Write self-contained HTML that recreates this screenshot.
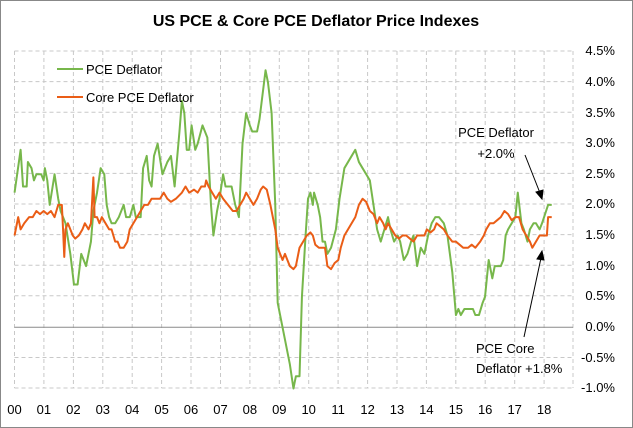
<!DOCTYPE html>
<html><head><meta charset="utf-8"><style>
html,body{margin:0;padding:0;background:#fff}
svg{display:block}
text{font-family:"Liberation Sans",Arial,sans-serif;fill:#000}
</style></head><body>
<svg width="633" height="428" viewBox="0 0 633 428" xmlns="http://www.w3.org/2000/svg">
<rect x="0.5" y="0.5" width="632" height="427" fill="#fff" stroke="#888"/>
<text x="316" y="26" font-size="16" font-weight="bold" text-anchor="middle">US PCE &amp; Core PCE Deflator Price Indexes</text>
<g stroke="#c8c8c8" stroke-width="1" stroke-dasharray="4,3" fill="none">
<line x1="14.5" y1="51" x2="573" y2="51"/><line x1="14.5" y1="81.6" x2="573" y2="81.6"/>
<line x1="14.5" y1="112.2" x2="573" y2="112.2"/><line x1="14.5" y1="142.8" x2="573" y2="142.8"/>
<line x1="14.5" y1="173.4" x2="573" y2="173.4"/><line x1="14.5" y1="204" x2="573" y2="204"/>
<line x1="14.5" y1="234.6" x2="573" y2="234.6"/><line x1="14.5" y1="265.2" x2="573" y2="265.2"/>
<line x1="14.5" y1="295.8" x2="573" y2="295.8"/>
<line x1="14.5" y1="357.5" x2="573" y2="357.5"/><line x1="14.5" y1="388" x2="573" y2="388"/>
<line x1="14.5" y1="51" x2="14.5" y2="388"/><line x1="43.9" y1="51" x2="43.9" y2="388"/>
<line x1="73.4" y1="51" x2="73.4" y2="388"/><line x1="102.8" y1="51" x2="102.8" y2="388"/>
<line x1="132.2" y1="51" x2="132.2" y2="388"/><line x1="161.6" y1="51" x2="161.6" y2="388"/>
<line x1="191" y1="51" x2="191" y2="388"/><line x1="220.5" y1="51" x2="220.5" y2="388"/>
<line x1="249.9" y1="51" x2="249.9" y2="388"/><line x1="279.3" y1="51" x2="279.3" y2="388"/>
<line x1="308.7" y1="51" x2="308.7" y2="388"/><line x1="338.1" y1="51" x2="338.1" y2="388"/>
<line x1="367.6" y1="51" x2="367.6" y2="388"/><line x1="397" y1="51" x2="397" y2="388"/>
<line x1="426.4" y1="51" x2="426.4" y2="388"/><line x1="455.8" y1="51" x2="455.8" y2="388"/>
<line x1="485.2" y1="51" x2="485.2" y2="388"/><line x1="514.7" y1="51" x2="514.7" y2="388"/>
<line x1="544.1" y1="51" x2="544.1" y2="388"/><line x1="573" y1="51" x2="573" y2="388"/>
</g>
<line x1="14.5" y1="327.3" x2="573" y2="327.3" stroke="#8a8a8a" stroke-width="1"/>
<g font-size="13" text-anchor="end">
<text x="615" y="55">4.5%</text><text x="615" y="86">4.0%</text><text x="615" y="117">3.5%</text>
<text x="615" y="147">3.0%</text><text x="615" y="178">2.5%</text><text x="615" y="208">2.0%</text>
<text x="615" y="239">1.5%</text><text x="615" y="270">1.0%</text><text x="615" y="300">0.5%</text>
<text x="615" y="331">0.0%</text><text x="615" y="362">-0.5%</text><text x="615" y="392">-1.0%</text>
</g>
<g font-size="13" text-anchor="middle">
<text x="14.5" y="414">00</text><text x="43.9" y="414">01</text><text x="73.4" y="414">02</text>
<text x="102.8" y="414">03</text><text x="132.2" y="414">04</text><text x="161.6" y="414">05</text>
<text x="191" y="414">06</text><text x="220.5" y="414">07</text><text x="249.9" y="414">08</text>
<text x="279.3" y="414">09</text><text x="308.7" y="414">10</text><text x="338.1" y="414">11</text>
<text x="367.6" y="414">12</text><text x="397" y="414">13</text><text x="426.4" y="414">14</text>
<text x="455.8" y="414">15</text><text x="485.2" y="414">16</text><text x="514.7" y="414">17</text>
<text x="544.1" y="414">18</text>
</g>
<g transform="translate(0,327.3) scale(1.2126,-61.2)" fill="none" stroke-linejoin="round">
<polyline vector-effect="non-scaling-stroke" stroke="#77b74b" stroke-width="2" points="12,2.2 17,2.9 19,2.3 22,2.3 23,2.7 26,2.6 28,2.4 30,2.5 34,2.5 36,2.4 37,2.6 39,2.4 41,2.0 45,2.5 48,2.1 50,1.9 54,1.7 58,1.2 61,0.7 64,0.7 67,1.2 71,1.0 75,1.4 77,1.9 80,2.2 83,2.6 86,2.5 88,2.0 90,1.8 92,1.7 95,1.7 98,1.8 102,2.0 104,1.8 107,1.8 110,2.0 112,1.8 116,1.8 118,2.6 121,2.8 123,2.4 125,2.3 127,2.8 130,3.0 134,2.5 136,2.6 138,2.7 141,2.8 144,2.3 148,3.2 150,3.7 152,3.5 154,2.9 156,2.9 158,3.3 161,2.9 163,3.0 167,3.3 171,3.1 174,2.0 176,1.5 179,1.9 181,2.1 184,2.5 186,2.3 188,2.3 191,2.3 194,2.0 197,1.8 200,3.0 203,3.5 206,3.3 208,3.2 212,3.2 214,3.4 219,4.2 221,4.0 224,3.5 227,2.0 229,0.4 231,0.2 235,-0.2 239,-0.6 242,-1.0 244,-0.8 247,-0.8 249,0.5 252,1.5 254,2.1 256,2.2 258,2.0 259,2.2 262,2.0 264,1.8 266,1.4 268,1.4 270,1.2 273,1.3 277,1.6 280,2.1 284,2.6 287,2.7 290,2.8 293,2.9 296,2.7 299,2.6 302,2.5 305,2.4 308,2.0 311,1.6 314,1.4 317,1.6 320,1.8 322,1.6 325,1.4 328,1.5 330,1.4 333,1.1 336,1.2 339,1.4 341,1.5 344,1.0 347,1.3 350,1.2 353,1.5 356,1.7 359,1.8 362,1.8 366,1.7 369,1.5 373,0.9 376,0.2 378,0.3 380,0.2 383,0.3 390,0.3 392,0.2 395,0.2 398,0.4 400,0.5 403,1.1 406,0.8 408,1.0 413,1.0 415,1.1 417,1.5 419,1.6 422,1.7 425,1.8 427,2.2 430,1.7 432,1.6 435,1.4 437,1.6 440,1.7 442,1.7 445,1.6 447,1.7 452,2.0 455,2.0"/>
<polyline vector-effect="non-scaling-stroke" stroke="#ea5d16" stroke-width="2" points="12,1.5 15,1.8 17,1.6 20,1.7 24,1.8 27,1.8 30,1.9 33,1.85 36,1.9 39,1.85 42,1.9 45,1.8 48,2.0 51,2.0 52,1.6 53,1.15 54,1.6 56,1.7 58,1.6 60,1.5 62,1.45 65,1.5 68,1.6 70,1.7 73,1.6 75,1.7 77,2.45 78,1.8 80,1.8 82,1.7 84,1.8 87,1.7 90,1.6 92,1.6 95,1.4 97,1.4 99,1.3 102,1.3 105,1.4 107,1.6 110,1.7 113,1.8 116,1.9 119,2.0 122,2.0 125,2.1 128,2.1 132,2.1 135,2.2 138,2.1 141,2.05 145,2.1 150,2.2 153,2.3 156,2.2 160,2.25 163,2.2 166,2.3 169,2.3 170,2.4 172,2.3 175,2.2 178,2.1 181,2.2 184,2.1 188,2.0 192,1.9 195,1.9 198,2.0 201,2.1 203,2.2 206,2.1 209,2.0 212,2.1 215,2.25 217,2.3 220,2.25 223,2.0 225,1.8 227,1.6 229,1.3 231,1.2 233,1.1 235,1.2 237,1.1 239,1.0 242,0.95 244,1.0 247,1.3 250,1.4 253,1.5 256,1.55 258,1.5 260,1.35 263,1.3 266,1.3 268,1.3 270,1.0 273,0.95 276,1.05 279,1.1 281,1.3 284,1.5 287,1.6 290,1.7 293,1.8 296,2.0 299,2.1 302,2.05 305,1.9 308,1.85 311,1.7 313,1.8 316,1.7 318,1.6 320,1.7 323,1.6 326,1.5 329,1.45 332,1.5 335,1.5 338,1.45 341,1.4 344,1.5 347,1.5 350,1.5 352,1.6 355,1.55 358,1.6 360,1.7 363,1.65 366,1.6 369,1.5 373,1.4 376,1.4 379,1.35 382,1.3 386,1.3 389,1.35 392,1.3 396,1.4 399,1.5 401,1.6 404,1.7 407,1.7 410,1.75 413,1.8 416,1.9 419,1.85 422,1.75 425,1.8 428,1.8 431,1.6 434,1.5 437,1.4 439,1.3 442,1.4 445,1.5 448,1.5 451,1.5 452,1.8 455,1.8"/>
</g>
<line x1="57" y1="69" x2="83" y2="69" stroke="#77b74b" stroke-width="2"/>
<text x="86" y="74" font-size="13">PCE Deflator</text>
<line x1="57" y1="97" x2="83" y2="97" stroke="#ea5d16" stroke-width="2"/>
<text x="86" y="102" font-size="13">Core PCE Deflator</text>
<g font-size="13" text-anchor="middle">
<text x="496" y="137">PCE Deflator</text>
<text x="496" y="158">+2.0%</text>
</g>
<g font-size="13">
<text x="476" y="353">PCE Core</text>
<text x="476" y="373">Deflator +1.8%</text>
</g>
<g stroke="#000" stroke-width="1" fill="#000">
<line x1="525" y1="155" x2="540" y2="193"/>
<polygon points="542,199 536,192 543,190"/>
<line x1="524" y1="337" x2="541" y2="258"/>
<polygon points="542,251 537,259 544,260"/>
</g>
</svg>
</body></html>
